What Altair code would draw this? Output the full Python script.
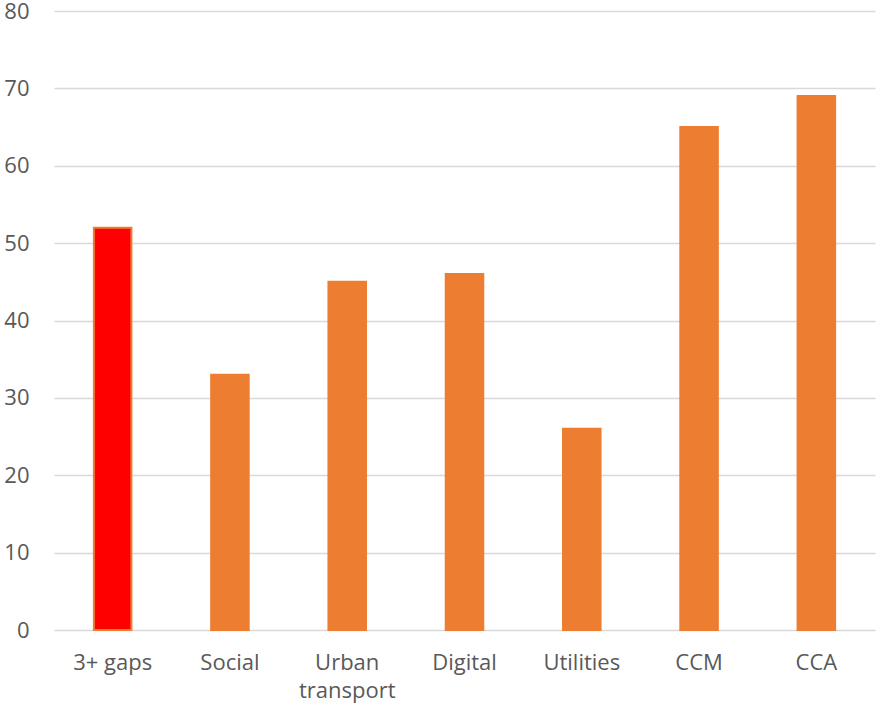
import altair as alt
import pandas as pd

categories = ["3+ gaps", "Social", "Urban transport", "Digital", "Utilities", "CCM", "CCA"]
values = [52, 33, 45, 46, 26, 65, 69]
bar_colors = ["#FF0000", "#ED7D31", "#ED7D31", "#ED7D31", "#ED7D31", "#ED7D31", "#ED7D31"]
y_ticks = [0, 10, 20, 30, 40, 50, 60, 70, 80]

df = pd.DataFrame({"category": categories, "value": values, "color": bar_colors})

chart = alt.Chart(df).mark_bar(stroke="#ED7D31", strokeWidth=2).encode(
    x=alt.X(
        "category:N",
        sort=categories,
        title=None,
        scale=alt.Scale(paddingInner=0.68, paddingOuter=0.34),
        axis=alt.Axis(
            labelAngle=0,
            labelFont="Open Sans",
            labelFontSize=22,
            labelColor="#595959",
            labelPadding=22,
            labelLineHeight=28,
            labelExpr="datum.label == 'Urban transport' ? ['Urban', 'transport'] : datum.label",
            ticks=False,
            domain=False,
            grid=False,
        ),
    ),
    y=alt.Y(
        "value:Q",
        title=None,
        scale=alt.Scale(domain=[0, 80], nice=False),
        axis=alt.Axis(
            values=y_ticks,
            labelFont="Open Sans",
            labelFontSize=22,
            labelColor="#595959",
            labelPadding=25,
            ticks=False,
            domain=False,
            gridColor="#D9D9D9",
            gridWidth=1.5,
        ),
    ),
    color=alt.Color("color:N", scale=None),
).properties(
    width=821,
    height=619,
    autosize=alt.AutoSizeParams(type="none"),
    padding={"left": 54, "top": 11, "right": 1, "bottom": 79},
).configure_view(stroke=None)

chart.save("out.html", embed_options={"renderer": "svg", "actions": False})
